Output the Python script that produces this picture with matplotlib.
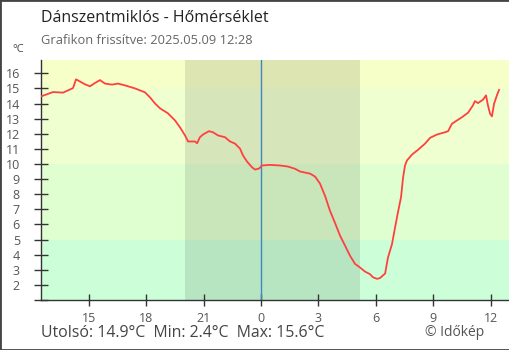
import matplotlib.pyplot as plt
from matplotlib.patches import Rectangle

plt.rcParams["font.family"] = ["Open Sans", "DejaVu Sans"]

# -----------------------------
# Data (hours relative to midnight, temperature in °C)
# -----------------------------
hours = [-11.49, -10.86, -10.34, -9.82, -9.66, -9.19, -8.93, -8.67, -8.41, -8.15,
         -7.78, -7.47, -7.10, -6.58, -6.06, -5.80, -5.54, -5.27, -4.86, -4.49,
         -4.23, -3.97, -3.81, -3.45, -3.34, -3.19, -3.03, -2.72, -2.51, -2.25,
         -1.88, -1.62, -1.36, -1.10, -0.94, -0.73, -0.47, -0.31, -0.10, 0.05,
         0.47, 0.99, 1.41, 1.78, 2.04, 2.56, 2.82, 3.08, 3.34, 3.60,
         3.86, 4.13, 4.39, 4.65, 4.91, 5.17, 5.43, 5.69, 5.85, 6.06,
         6.21, 6.48, 6.63, 6.84, 7.00, 7.15, 7.31, 7.42, 7.52, 7.62,
         7.89, 8.20, 8.56, 8.83, 9.19, 9.61, 9.77, 9.97, 10.23, 10.50,
         10.81, 11.07, 11.17, 11.33, 11.59, 11.75, 11.85, 11.96, 12.06, 12.17,
         12.32, 12.43]
temps = [14.47, 14.76, 14.72, 15.02, 15.60, 15.27, 15.14, 15.36, 15.55, 15.32,
         15.25, 15.32, 15.20, 15.00, 14.74, 14.41, 14.01, 13.68, 13.35, 12.88,
         12.42, 11.89, 11.49, 11.49, 11.37, 11.77, 11.95, 12.17, 12.10, 11.89,
         11.77, 11.49, 11.35, 11.02, 10.56, 10.16, 9.78, 9.63, 9.70, 9.90,
         9.94, 9.90, 9.83, 9.68, 9.50, 9.36, 9.17, 8.70, 7.90, 6.91,
         6.11, 5.25, 4.59, 3.92, 3.39, 3.15, 2.88, 2.71, 2.50, 2.40,
         2.45, 2.75, 3.81, 4.70, 5.80, 6.80, 7.79, 9.12, 9.90, 10.23,
         10.63, 10.94, 11.34, 11.73, 11.95, 12.10, 12.17, 12.66, 12.88, 13.10,
         13.39, 13.88, 14.16, 14.03, 14.25, 14.54, 13.88, 13.33, 13.15, 13.99,
         14.54, 14.90]

tick_hours = [-9, -6, -3, 0, 3, 6, 9, 12]
tick_labels = ["15", "18", "21", "0", "3", "6", "9", "12"]

bands = [(-5, 5, "#ccffd8"), (5, 10, "#e0ffd0"), (10, 15, "#f0ffd0"), (15, 30, "#f7ffc8")]
sunset, sunrise = -3.97, 5.17

# -----------------------------
# Figure
# -----------------------------
fig = plt.figure(figsize=(5.1, 3.5), dpi=100)
ax = fig.add_axes([41 / 510, 50 / 350, 468 / 510, 240 / 350])

x_min, x_max = -11.49, 12.95
y_min, y_max = 1.0, 16.88

for lo, hi, col in bands:
    ax.axhspan(lo, hi, color=col, lw=0, zorder=0)
ax.axvspan(sunset, sunrise, color="black", alpha=0.1, lw=0, zorder=1)
ax.axvline(0, color="#3d85c6", lw=1, zorder=2)

ax.plot(hours, temps, color="#ff4040", lw=1.3, zorder=3)

ax.set_xlim(x_min, x_max)
ax.set_ylim(y_min, y_max)

ax.set_xticks(tick_hours)
ax.set_xticklabels(tick_labels)
ax.set_yticks(range(1, 17))
ax.set_yticklabels([""] + [str(v) for v in range(2, 17)])

ax.tick_params(axis="both", direction="inout", colors="#333333", labelcolor="#555555",
               labelsize=9, width=1)
ax.tick_params(axis="y", length=10, pad=10.2)
ax.tick_params(axis="x", length=9, pad=4)

for side in ["top", "right"]:
    ax.spines[side].set_visible(False)
for side in ["left", "bottom"]:
    ax.spines[side].set_color("#333333")
    ax.spines[side].set_linewidth(1)

# -----------------------------
# Texts
# -----------------------------
fig.text(41 / 510, 1 - 18 / 350, "Dánszentmiklós - Hőmérséklet", fontsize=11.5,
         color="#222222", va="center", ha="left")
fig.text(41 / 510, 1 - 41 / 350, "Grafikon frissítve: 2025.05.09 12:28", fontsize=9.3,
         color="#666666", va="center", ha="left")
fig.text(12 / 510, 1 - 50 / 350, "°C", fontsize=8, color="#444444", va="center", ha="left")
fig.text(41 / 510, 1 - 333 / 350, "Utolsó: 14.9°C  Min: 2.4°C  Max: 15.6°C", fontsize=11.4,
         color="#444444", va="center", ha="left")
fig.text(425 / 510, 1 - 332 / 350, "© Időkép", fontsize=10, color="#555555",
         va="center", ha="left")

fig.patches.append(Rectangle((0, 0), 1, 1, transform=fig.transFigure, fill=False,
                             edgecolor="#444444", lw=2))

plt.savefig("out.png", dpi=100)
